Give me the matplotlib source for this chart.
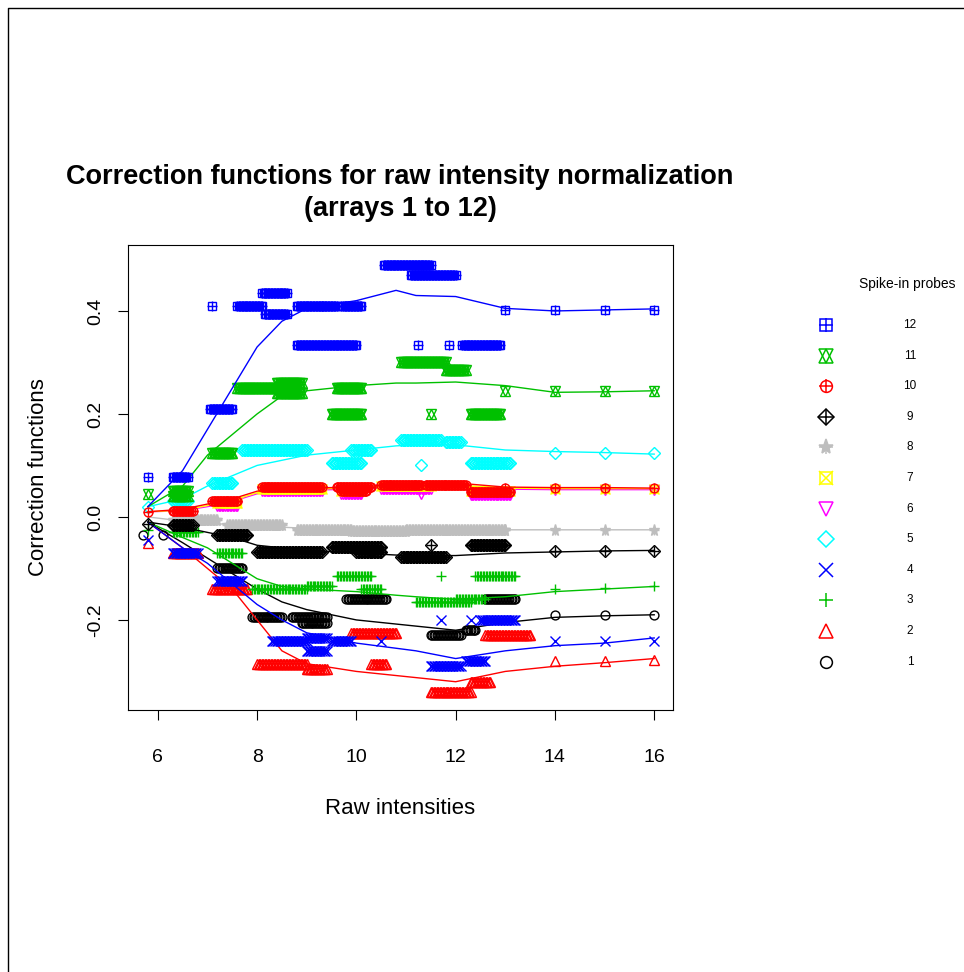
import numpy as np
import matplotlib.pyplot as plt

plt.rcParams['font.family'] = ['Liberation Sans', 'DejaVu Sans']

# clusters of spike-in points: (x_from, x_to, y)
clusters = {
    12: [(5.8, 5.8, 0.078), (6.3, 6.6, 0.078), (7.05, 7.5, 0.21), (7.1, 7.1, 0.41),
         (7.6, 8.1, 0.41), (8.1, 8.6, 0.435), (8.15, 8.6, 0.395), (8.8, 9.3, 0.41),
         (9.3, 9.6, 0.41), (9.7, 10.1, 0.41), (8.8, 10.0, 0.333), (10.55, 11.5, 0.49),
         (11.1, 12.0, 0.47), (11.24, 11.24, 0.334), (11.87, 11.87, 0.334),
         (12.13, 12.9, 0.334), (13, 13, 0.402), (14, 14, 0.402), (15, 15, 0.402), (16, 16, 0.402)],
    11: [(5.8, 5.8, 0.045), (6.3, 6.6, 0.05), (6.3, 6.6, 0.04), (7.1, 7.5, 0.125),
         (7.6, 8.4, 0.25), (8.4, 8.9, 0.26), (8.4, 8.9, 0.24), (9.6, 10.1, 0.25),
         (9.5, 10.1, 0.2), (10.9, 11.8, 0.3), (11.8, 12.2, 0.285), (11.5, 11.5, 0.2),
         (12.3, 12.9, 0.2), (13, 13, 0.245), (14, 14, 0.245), (15, 15, 0.245), (16, 16, 0.245)],
    10: [(5.8, 5.8, 0.01), (6.3, 6.7, 0.012), (7.1, 7.6, 0.03), (8.1, 9.3, 0.058),
         (9.6, 10.3, 0.058), (9.7, 10.2, 0.05), (10.5, 11.3, 0.062), (11.4, 12.2, 0.062),
         (12.3, 13.1, 0.048), (13, 13, 0.057), (14, 14, 0.057), (15, 15, 0.057), (16, 16, 0.057)],
    9: [(5.8, 5.8, -0.013), (6.3, 6.7, -0.015), (7.2, 7.8, -0.035), (8.0, 9.3, -0.068),
        (9.5, 10.5, -0.058), (10.0, 10.5, -0.068), (10.9, 11.8, -0.078), (11.5, 11.5, -0.055),
        (12.3, 13.0, -0.055), (14, 14, -0.067), (15, 15, -0.067), (16, 16, -0.067)],
    8: [(6.3, 7.2, -0.005), (7.4, 8.5, -0.015), (8.8, 9.9, -0.025), (9.9, 11.0, -0.028),
        (11.0, 13.0, -0.025), (13, 13, -0.025), (14, 14, -0.025), (15, 15, -0.025), (16, 16, -0.025)],
    7: [(7.2, 7.6, 0.028), (8.1, 9.3, 0.055), (9.7, 10.1, 0.05), (10.5, 11.5, 0.06),
        (12.3, 13.1, 0.05), (14, 14, 0.055), (15, 15, 0.055), (16, 16, 0.055)],
    6: [(7.2, 7.6, 0.022), (8.1, 9.3, 0.05), (9.7, 10.1, 0.045), (10.5, 11.5, 0.055),
        (11.3, 11.3, 0.045), (12.3, 13.1, 0.043), (14, 14, 0.052), (15, 15, 0.052), (16, 16, 0.052)],
    5: [(5.8, 5.8, 0.02), (6.3, 6.6, 0.03), (7.1, 7.5, 0.065), (7.7, 9.0, 0.13),
        (9.5, 10.1, 0.105), (9.9, 10.3, 0.13), (10.9, 11.7, 0.15), (11.8, 12.1, 0.145),
        (11.3, 11.3, 0.1), (12.3, 13.1, 0.105), (14, 14, 0.125), (15, 15, 0.125), (16, 16, 0.125)],
    4: [(5.8, 5.8, -0.045), (6.3, 6.8, -0.07), (7.2, 7.7, -0.125), (8.3, 9.0, -0.24),
        (9.0, 9.4, -0.235), (9.0, 9.4, -0.26), (9.5, 9.9, -0.24), (10.5, 10.5, -0.24),
        (11.5, 12.1, -0.29), (12.2, 12.6, -0.28), (11.7, 11.7, -0.2), (12.3, 12.3, -0.2),
        (12.5, 13.2, -0.2), (14, 14, -0.24), (15, 15, -0.24), (16, 16, -0.24)],
    3: [(5.8, 5.8, -0.025), (6.3, 6.8, -0.03), (7.2, 7.7, -0.07), (7.9, 9.0, -0.14),
        (9.0, 9.5, -0.135), (9.6, 10.3, -0.115), (10.1, 10.5, -0.14), (11.2, 12.3, -0.165),
        (11.7, 11.7, -0.115), (12.4, 13.2, -0.115), (12.0, 12.6, -0.16),
        (14, 14, -0.14), (15, 15, -0.138), (16, 16, -0.135)],
    2: [(5.8, 5.8, -0.05), (6.3, 6.8, -0.07), (7.1, 7.8, -0.14), (8.0, 9.0, -0.285),
        (9.0, 9.4, -0.295), (10.3, 10.6, -0.285), (11.5, 12.3, -0.34), (12.3, 12.7, -0.32),
        (9.9, 10.8, -0.225), (12.6, 13.5, -0.23), (14, 14, -0.28), (15, 15, -0.28), (16, 16, -0.278)],
    1: [(5.7, 5.7, -0.035), (6.1, 6.1, -0.035), (7.2, 7.7, -0.1), (7.9, 8.5, -0.195),
        (8.7, 9.4, -0.195), (8.9, 9.4, -0.205), (9.8, 10.6, -0.16), (11.5, 12.1, -0.23),
        (12.2, 12.4, -0.22), (12.6, 13.2, -0.16), (14, 14, -0.19), (15, 15, -0.19), (16, 16, -0.19)],
}

# smoothed correction curves
curve_x = [5.8, 6.5, 7.0, 7.5, 8.0, 8.5, 9.0, 10.0, 10.8, 11.2, 12.0, 13.0, 14.0, 15.0, 16.0]
curves = {
    12: [0.02, 0.09, 0.17, 0.25, 0.33, 0.38, 0.405, 0.42, 0.44, 0.43, 0.428, 0.405, 0.40, 0.402, 0.404],
    11: [0.02, 0.06, 0.12, 0.16, 0.20, 0.235, 0.245, 0.255, 0.26, 0.26, 0.262, 0.255, 0.242, 0.243, 0.245],
    10: [0.01, 0.015, 0.025, 0.035, 0.05, 0.055, 0.056, 0.058, 0.063, 0.065, 0.066, 0.058, 0.057, 0.057, 0.056],
    7:  [0.01, 0.013, 0.022, 0.032, 0.047, 0.052, 0.054, 0.056, 0.06, 0.062, 0.062, 0.056, 0.055, 0.055, 0.055],
    6:  [0.01, 0.012, 0.02, 0.03, 0.045, 0.05, 0.052, 0.054, 0.058, 0.06, 0.06, 0.054, 0.053, 0.053, 0.053],
    5:  [0.02, 0.035, 0.06, 0.08, 0.10, 0.11, 0.12, 0.13, 0.138, 0.14, 0.14, 0.13, 0.127, 0.125, 0.122],
    8:  [0.0, -0.008, -0.012, -0.015, -0.018, -0.02, -0.022, -0.024, -0.025, -0.025, -0.025, -0.025, -0.025, -0.025, -0.025],
    9:  [-0.01, -0.02, -0.03, -0.04, -0.055, -0.06, -0.065, -0.07, -0.074, -0.075, -0.075, -0.07, -0.068, -0.066, -0.065],
    3:  [-0.01, -0.04, -0.06, -0.09, -0.12, -0.135, -0.14, -0.145, -0.152, -0.155, -0.16, -0.155, -0.145, -0.14, -0.135],
    1:  [-0.01, -0.05, -0.08, -0.11, -0.14, -0.165, -0.18, -0.20, -0.208, -0.212, -0.22, -0.205, -0.195, -0.192, -0.19],
    4:  [-0.01, -0.06, -0.09, -0.13, -0.17, -0.20, -0.225, -0.245, -0.255, -0.26, -0.275, -0.26, -0.25, -0.245, -0.235],
    2:  [-0.01, -0.06, -0.10, -0.14, -0.20, -0.26, -0.285, -0.30, -0.308, -0.312, -0.32, -0.30, -0.29, -0.283, -0.275],
}

colors = {12: 'blue', 11: '#00c000', 10: 'red', 9: 'black', 8: '#bebebe', 7: '#ffff00',
          6: 'magenta', 5: 'cyan', 4: 'blue', 3: '#00c000', 2: 'red', 1: 'black'}
# each symbol built of overlaid matplotlib markers
symbols = {12: [('s', 'none'), ('+', None)], 11: [('^', 'none'), ('v', 'none')],
           10: [('o', 'none'), ('+', None)], 9: [('D', 'none'), ('+', None)],
           8: [('*', None), ('+', None)], 7: [('s', 'none'), ('x', None)],
           6: [('v', 'none')], 5: [('D', 'none')], 4: [('x', None)], 3: [('+', None)],
           2: [('^', 'none')], 1: [('o', 'none')]}
ms_scale = {'D': 0.8, '*': 1.1, 'o': 0.85, 's': 0.85}

fig = plt.figure(figsize=(9.64, 9.72), dpi=100)
ax = fig.add_axes([0.1328, 0.2695, 0.5654, 0.4784])

def draw_sym(axis, xs, ys, k, ms=7.5, mew=1.0):
    for m, fc in symbols[k]:
        axis.plot(xs, ys, ls='none', marker=m, ms=ms * ms_scale.get(m, 1.0),
                  mfc=fc if fc else colors[k], mec=colors[k], mew=mew)

for k in range(1, 13):
    xs, ys = [], []
    for x0, x1, y in clusters[k]:
        n = max(1, int(round((x1 - x0) / 0.03)) + 1)
        xs.extend(np.linspace(x0, x1, n))
        ys.extend([y] * n)
    draw_sym(ax, xs, ys, k)
    ax.plot(curve_x, curves[k], color=colors[k], lw=1.0)

ax.set_xlim(5.4, 16.38)
ax.set_ylim(-0.375, 0.528)
ax.set_xticks([6, 8, 10, 12, 14, 16])
ax.set_yticks([-0.2, 0.0, 0.2, 0.4])
ax.set_yticklabels(['-0.2', '0.0', '0.2', '0.4'], rotation=90, va='center')
ax.tick_params(labelsize=14, length=7)
ax.tick_params(axis='x', pad=21)
ax.tick_params(axis='y', pad=10)
ax.set_xlabel('Raw intensities', fontsize=16, labelpad=23)
ax.set_ylabel('Correction functions', fontsize=16, labelpad=28)
fig.text(0.415, 0.801, 'Correction functions for raw intensity normalization\n(arrays 1 to 12)',
         ha='center', va='center', fontsize=19.5, fontweight='bold', linespacing=1.3)

# legend drawn in figure space
lax = fig.add_axes([0, 0, 1, 1], facecolor='none')
lax.set_xlim(0, 964)
lax.set_ylim(972, 0)
lax.axis('off')
lax.text(907, 284, 'Spike-in probes', ha='center', va='center', fontsize=10)
for i, k in enumerate(range(12, 0, -1)):
    yy = 325 + i * 30.6
    draw_sym(lax, [826], [yy], k, ms=10, mew=1.1)
    lax.text(910, yy, str(k), ha='center', va='center', fontsize=8.5)
lax.plot([8, 8, 964], [972, 8, 8], color='black', lw=1)

fig.savefig('out.png', dpi=100)
